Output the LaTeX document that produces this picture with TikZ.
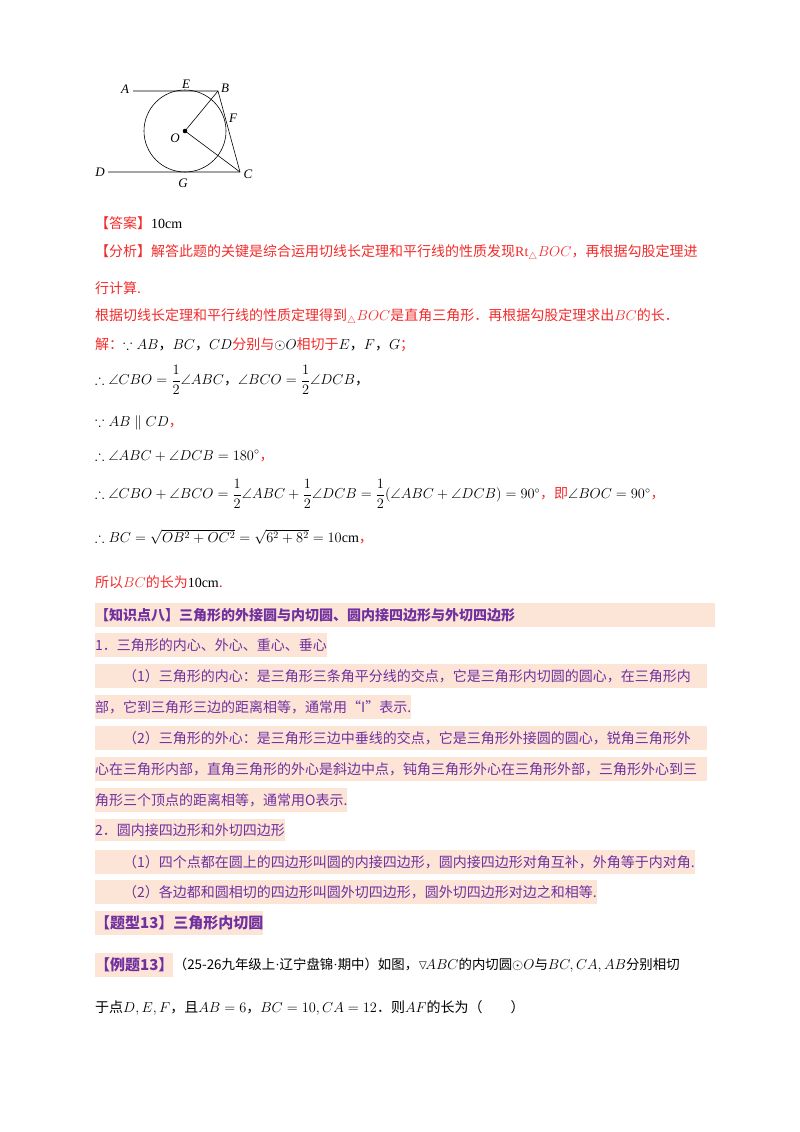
\documentclass[tikz,border=0pt]{standalone}
\usepackage{amssymb,amsmath}
\usepackage{fontspec}
\setmainfont{Liberation Serif}
\newfontfamily\cjk{Noto Sans CJK SC}
\definecolor{ansred}{HTML}{F22B2B}
\definecolor{kpurple}{HTML}{7030A0}
\definecolor{peach}{HTML}{FCE4D6}
\begin{document}
\begin{tikzpicture}[x=1pt,y=-1pt,
	txt/.style={anchor=west,inner sep=0pt,font=\cjk\fontsize{14}{17}\selectfont},
	redtxt/.style={txt,text=ansred},
	kp/.style={txt,text=kpurple,fill=peach,inner ysep=5pt},
	lbl/.style={font=\itshape\fontsize{13}{13}\selectfont,inner sep=1pt}]
	\useasboundingbox (0,0) rectangle (800,1132);

	%FIGURE
	\coordinate (A) at (133,91);	\coordinate (B) at (218,91);
	\coordinate (D) at (108,172);	\coordinate (C) at (240,172);
	\coordinate (O) at (185,131);
	\draw[semithick] (A)--(B)--(C)--(D);
	\draw[semithick] (O) circle (41);
	\draw[semithick] (B)--(O)--(C);
	\fill (O) circle (2.3);
	\node[lbl] (lA) at (125,89) {A};	\node[lbl] (lE) at (186,84) {E};
	\node[lbl] (lB) at (225,88) {B};	\node[lbl] (lF) at (233,118) {F};
	\node[lbl] (lO) at (175,138) {O};	\node[lbl] (lD) at (100,172) {D};
	\node[lbl] (lG) at (183,183) {G};	\node[lbl] (lC) at (248,174) {C};

	%ANSWER
	\node[redtxt] (ans) at (95,223) {【答案】{\color{black}\rmfamily 10cm}};
	\node[redtxt] (ana1) at (95,253) {【分析】解答此题的关键是综合运用切线长定理和平行线的性质发现$\mathrm{Rt}_\triangle BOC$，再根据勾股定理进};
	\node[redtxt] (ana2) at (95,288) {行计算.};
	\node[redtxt] (ana3) at (95,317) {根据切线长定理和平行线的性质定理得到${}_\triangle BOC$是直角三角形．再根据勾股定理求出$BC$的长．};
	\node[redtxt] (sol1) at (95,345) {解：{\color{black}$\because AB$，$BC$，$CD$}分别与{\color{black}$\odot O$}相切于{\color{black}$E$，$F$，$G$}；};
	\node[txt] (sol2) at (95,380) {$\therefore \angle CBO=\dfrac12\angle ABC$，$\angle BCO=\dfrac12\angle DCB$，};
	\node[txt] (sol3) at (95,423) {$\because AB\parallel CD${\color{ansred}，}};
	\node[txt] (sol4) at (95,456) {$\therefore \angle ABC+\angle DCB=180^\circ${\color{ansred}，}};
	\node[txt] (sol5) at (95,494) {$\therefore \angle CBO+\angle BCO=\dfrac12\angle ABC+\dfrac12\angle DCB=\dfrac12(\angle ABC+\angle DCB)=90^\circ${\color{ansred}，即}$\angle BOC=90^\circ${\color{ansred}，}};
	\node[txt] (sol6) at (95,537) {$\therefore BC=\sqrt{OB^2+OC^2}=\sqrt{6^2+8^2}=10\mathrm{cm}${\color{ansred}，}};
	\node[redtxt] (sol7) at (95,582) {所以$BC$的长为{\color{black}\rmfamily 10cm}.};

	%KNOWLEDGE POINT
	\node[kp,font=\cjk\bfseries\fontsize{14}{17}\selectfont,text width=620pt] (kp8) at (95,615) {【知识点八】三角形的外接圆与内切圆、圆内接四边形与外切四边形};
	\node[kp] (k1) at (95,645) {1．三角形的内心、外心、重心、垂心};
	\node[kp,text width=612pt] (k11) at (95,676) {\hspace{28pt}（1）三角形的内心：是三角形三条角平分线的交点，它是三角形内切圆的圆心，在三角形内};
	\node[kp] (k12) at (95,707) {部，它到三角形三边的距离相等，通常用“I”表示.};
	\node[kp,text width=612pt] (k21) at (95,738) {\hspace{28pt}（2）三角形的外心：是三角形三边中垂线的交点，它是三角形外接圆的圆心，锐角三角形外};
	\node[kp,text width=612pt] (k22) at (95,769) {心在三角形内部，直角三角形的外心是斜边中点，钝角三角形外心在三角形外部，三角形外心到三};
	\node[kp] (k23) at (95,800) {角形三个顶点的距离相等，通常用O表示.};
	\node[kp] (k2) at (95,830) {2．圆内接四边形和外切四边形};
	\node[kp] (k31) at (95,862) {\hspace{28pt}（1）四个点都在圆上的四边形叫圆的内接四边形，圆内接四边形对角互补，外角等于内对角.};
	\node[kp] (k32) at (95,892) {\hspace{28pt}（2）各边都和圆相切的四边形叫圆外切四边形，圆外切四边形对边之和相等.};

	%EXAMPLE
	\node[kp,font=\cjk\bfseries\fontsize{15}{18}\selectfont] (tx13) at (95,923) {【题型13】三角形内切圆};
	\node[kp,font=\cjk\bfseries\fontsize{15}{18}\selectfont] (ex13) at (95,965) {【例题13】};
	\node[txt,anchor=west,font=\cjk\fontsize{13.4}{17}\selectfont] (ex1) at (ex13.east) {（25-26九年级上{\rmfamily\textperiodcentered}辽宁盘锦{\rmfamily\textperiodcentered}期中）如图，$\triangledown\!ABC$的内切圆$\odot O$与$BC,CA,AB$分别相切};
	\node[txt] (ex2) at (95,1008) {于点$D,E,F$，且$AB=6$，$BC=10,CA=12$．则$AF$的长为（\hspace{2em}）};
\end{tikzpicture}
\end{document}
